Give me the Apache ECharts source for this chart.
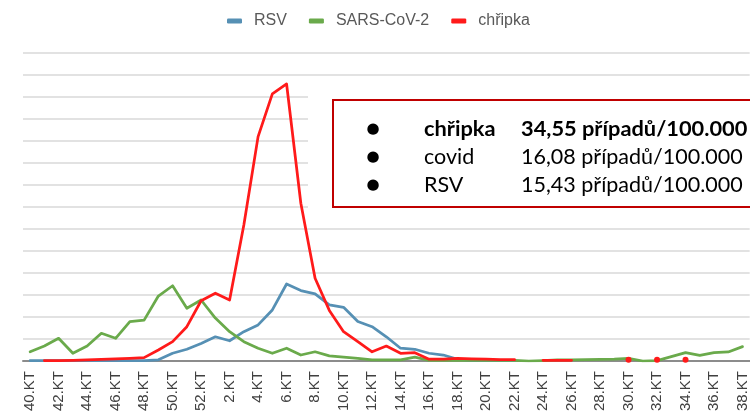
<!DOCTYPE html>
<html>
<head>
<meta charset="utf-8">
<title>RSV, SARS-CoV-2, chřipka</title>
<script src="https://cdn.jsdelivr.net/npm/echarts@6/dist/echarts.min.js"></script>
<style>
    html, body { margin: 0; padding: 0; background: #fff; overflow: hidden; }
    #chart { width: 750px; height: 416px; }
</style>
</head>
<body>
<div id="chart"></div>
<script>
// kalendářní týdny (sezóna 40.KT - 38.KT)
var weeks = ["40.KT", "41.KT", "42.KT", "43.KT", "44.KT", "45.KT", "46.KT", "47.KT", "48.KT", "49.KT",
    "50.KT", "51.KT", "52.KT", "1.KT", "2.KT", "3.KT", "4.KT", "5.KT", "6.KT", "7.KT",
    "8.KT", "9.KT", "10.KT", "11.KT", "12.KT", "13.KT", "14.KT", "15.KT", "16.KT", "17.KT",
    "18.KT", "19.KT", "20.KT", "21.KT", "22.KT", "23.KT", "24.KT", "25.KT", "26.KT", "27.KT",
    "28.KT", "29.KT", "30.KT", "31.KT", "32.KT", "33.KT", "34.KT", "35.KT", "36.KT", "37.KT", "38.KT"];

var rsv = [0.05, 0.05, 0.05, 0.05, 0.05, 0.05, 0.05, 0.05, 0.05, 0.13,
    0.88, 1.33, 2.0, 2.75, 2.3, 3.33, 4.1, 5.8, 8.75, 8.0,
    7.63, 6.38, 6.1, 4.48, 3.9, 2.75, 1.45, 1.33, 0.88, 0.68,
    0.2, 0.05, 0.05, 0.05, 0.05, null, null, null, null, null,
    null, null, null, null, null, null, null, null, null, null, null];

var sars = [1.05, 1.7, 2.58, 0.88, 1.7, 3.15, 2.58, 4.48, 4.65, 7.38,
    8.55, 6.0, 6.93, 4.88, 3.33, 2.2, 1.45, 0.88, 1.45, 0.68,
    1.05, 0.58, 0.43, 0.3, 0.13, 0.13, 0.13, 0.43, 0.08, 0.08,
    0.08, 0.08, 0.08, 0.08, 0.08, 0.0, 0.05, 0.13, 0.13, 0.15,
    0.18, 0.2, 0.3, 0.0, 0.05, 0.5, 0.95, 0.65, 0.95, 1.03, 1.63];

var chripka = [null, 0.05, 0.05, 0.08, 0.13, 0.18, 0.25, 0.3, 0.38, 1.25,
    2.2, 3.9, 6.85, 7.7, 6.93, 15.45, 25.5, 30.35, 31.48, 17.93,
    9.4, 5.75, 3.33, 2.2, 1.05, 1.7, 0.88, 0.95, 0.2, 0.2,
    0.3, 0.25, 0.2, 0.15, 0.15, null, 0.08, 0.08, 0.08, null,
    null, null, 0.13, null, 0.13, null, 0.13, null, null, null, null];

// text v rámečku
var boxNames = ["chřipka", "covid", "RSV"];
var boxValues = ["34,55 případů/100.000", "16,08 případů/100.000", "15,43 případů/100.000"];

var nemoci_chart = {

    init: function () {
        var chart = echarts.init(document.getElementById("chart"), null, {renderer: "canvas", width: 750, height: 416});
        chart.setOption(nemoci_chart.getOption());
    },

    // osamocené body (bez sousedů) vykreslit jako tečku
    withDots: function (values) {
        return values.map(function (v, i) {
            var prev = i > 0 ? values[i - 1] : null;
            var next = i < values.length - 1 ? values[i + 1] : null;
            if (v !== null && prev === null && next === null) {
                return {value: v, symbol: "circle", symbolSize: 6};
            }
            return v;
        });
    },

    lineSeries: function (name, color, values) {
        return {
            name: name,
            type: "line",
            data: nemoci_chart.withDots(values),
            symbol: "none",
            showAllSymbol: true,
            connectNulls: false,
            lineStyle: {color: color, width: 2.75, join: "round", cap: "round"},
            itemStyle: {color: color},
            emphasis: {disabled: true}
        };
    },

    getOption: function () {
        var border = {stroke: "#c00000", lineWidth: 2};
        var graphics = [
            {type: "rect", z: 5, shape: {x: 308, y: 88, width: 442, height: 130}, style: {fill: "#fff"}},
            // rámeček je vpravo oříznutý - jen horní, levá a dolní hrana
            {type: "line", z: 6, shape: {x1: 332, y1: 100, x2: 750, y2: 100}, style: border},
            {type: "line", z: 6, shape: {x1: 333, y1: 99, x2: 333, y2: 208}, style: border},
            {type: "line", z: 6, shape: {x1: 332, y1: 207, x2: 750, y2: 207}, style: border}
        ];
        for (var i = 0; i < boxNames.length; i++) {
            var y = 129 + i * 28;
            var font = i === 0 ? "bold 21.8px Lato" : "21.5px Lato";
            graphics.push({type: "text", z: 7, x: 373, y: y,
                style: {text: "●", fill: "#000", font: "15px 'DejaVu Sans'", align: "center", verticalAlign: "middle"}});
            graphics.push({type: "text", z: 7, x: 424, y: y,
                style: {text: boxNames[i], fill: "#000", font: font, align: "left", verticalAlign: "middle"}});
            graphics.push({type: "text", z: 7, x: 521, y: y,
                style: {text: boxValues[i], fill: "#000", font: font, align: "left", verticalAlign: "middle"}});
        }

        return {
            animation: false,
            backgroundColor: "#fff",
            legend: {
                data: ["RSV", "SARS-CoV-2", "chřipka"],
                left: 222,
                top: 8,
                icon: "roundRect",
                itemWidth: 15,
                itemHeight: 5,
                itemGap: 22,
                textStyle: {fontFamily: "Liberation Sans", fontSize: 16, color: "#595959", padding: [0, 0, 0, 7]}
            },
            grid: {
                left: 23,
                right: -2,
                top: 53,
                bottom: 55,
                containLabel: false
            },
            xAxis: {
                type: "category",
                data: weeks,
                boundaryGap: true,
                axisLine: {lineStyle: {color: "#8c8c8c", width: 2}},
                axisTick: {show: false},
                axisLabel: {
                    interval: 1,
                    rotate: 90,
                    margin: 10,
                    fontFamily: "Liberation Sans",
                    fontSize: 15,
                    color: "#404040"
                }
            },
            yAxis: {
                type: "value",
                min: 0,
                max: 35,
                interval: 2.5,
                axisLine: {show: false},
                axisTick: {show: false},
                axisLabel: {show: false},
                splitLine: {lineStyle: {color: "#e2e2e2", width: 2}}
            },
            series: [
                nemoci_chart.lineSeries("RSV", "#5690b4", rsv),
                nemoci_chart.lineSeries("SARS-CoV-2", "#6aaa4b", sars),
                nemoci_chart.lineSeries("chřipka", "#ff1a1a", chripka)
            ],
            graphic: graphics
        };
    }

};

nemoci_chart.init();
</script>
</body>
</html>
